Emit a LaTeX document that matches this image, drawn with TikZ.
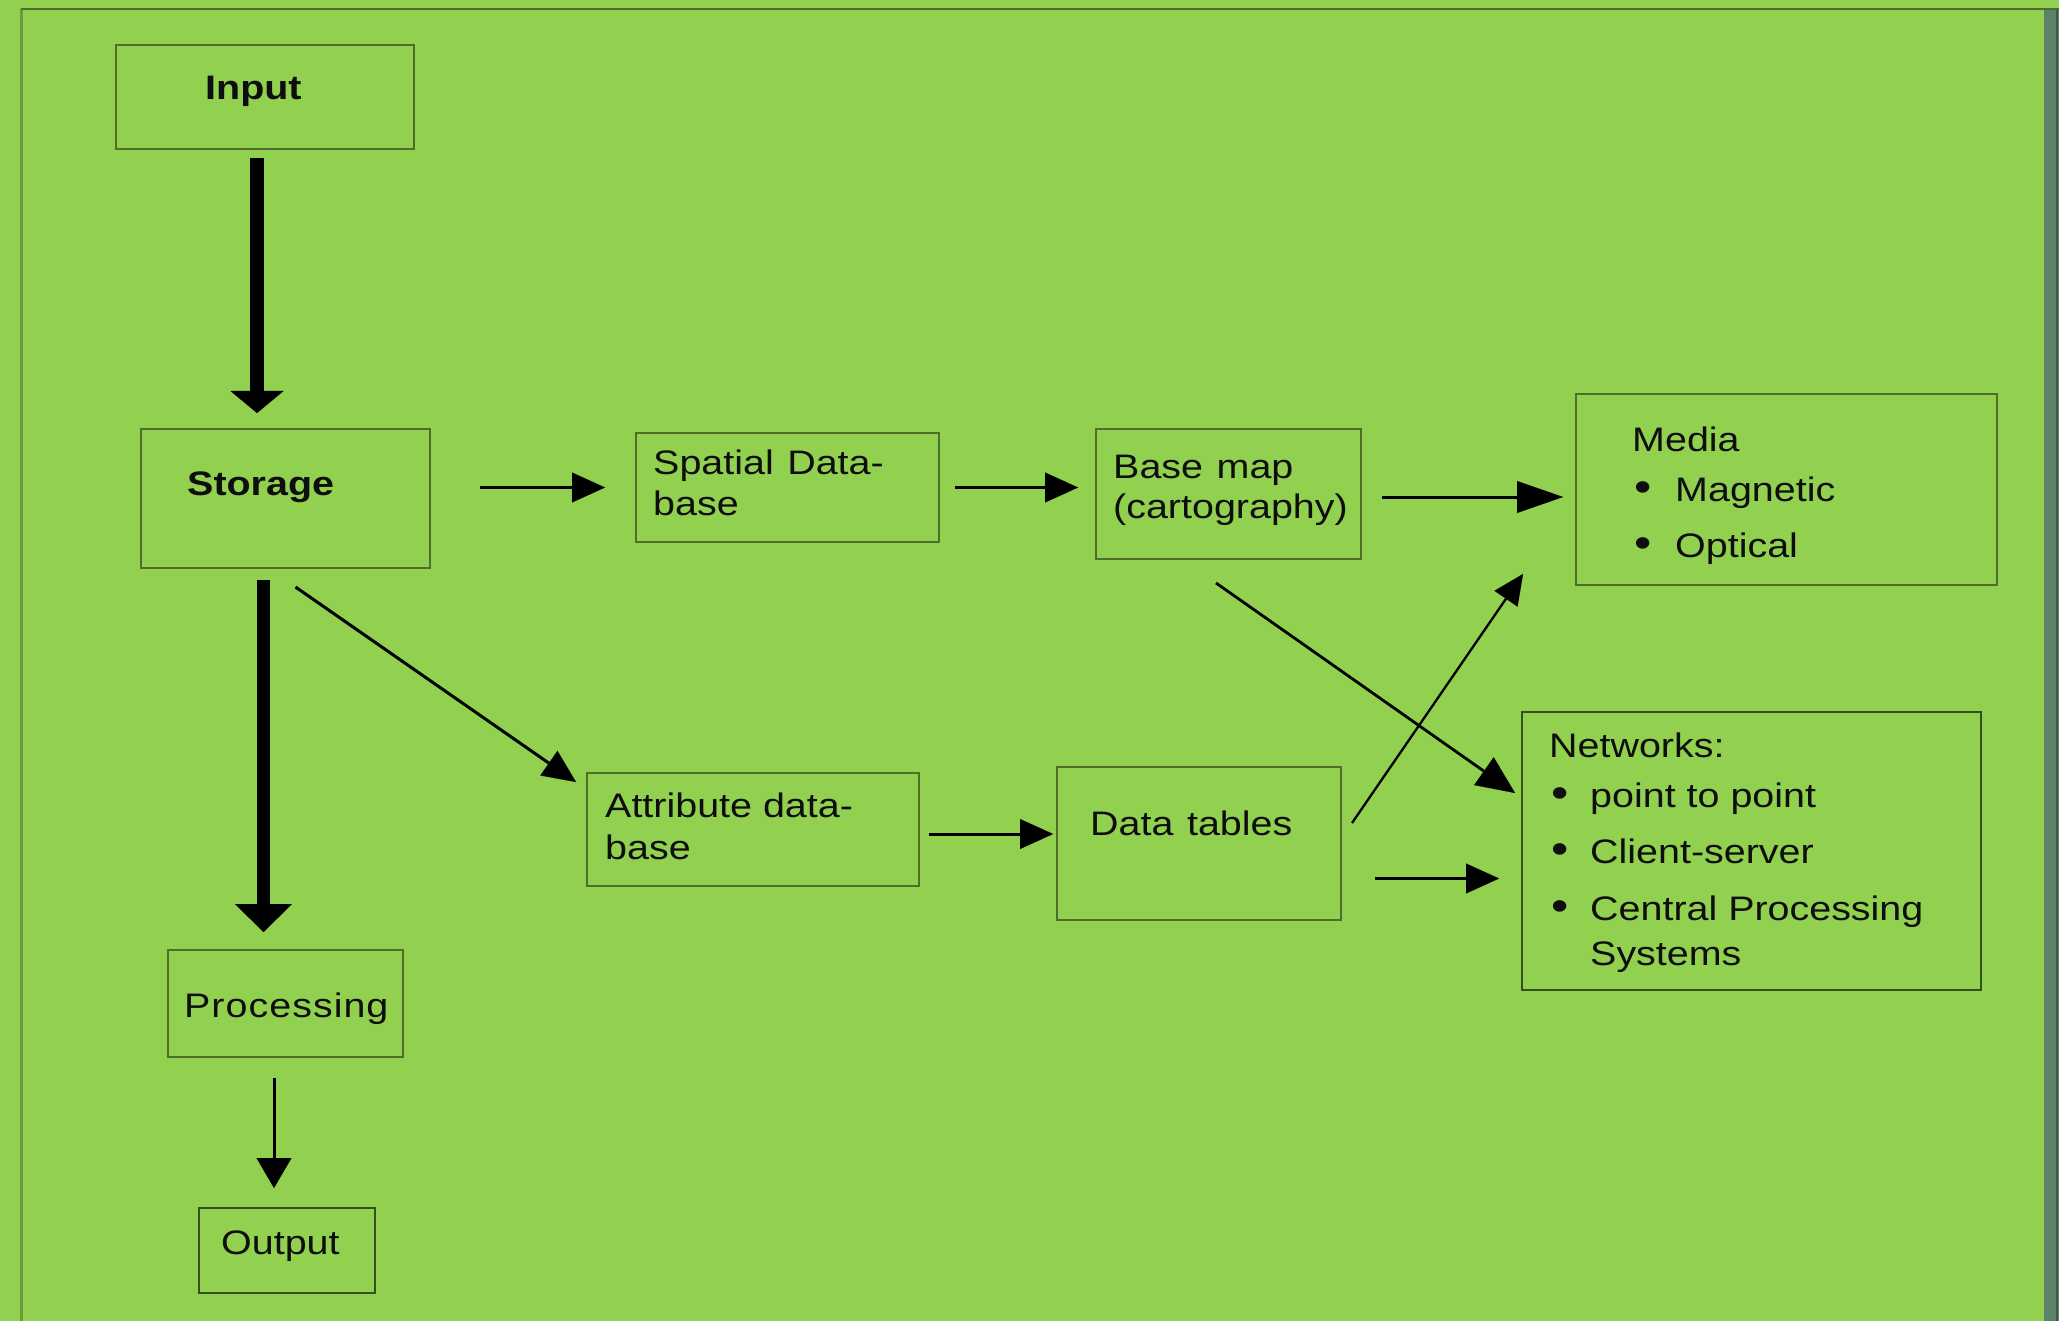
\documentclass[tikz,border=0pt]{standalone}
\usepackage{fontspec}
\setmainfont{Liberation Sans}[FakeStretch=1.16]
\usetikzlibrary{arrows.meta,calc}
\definecolor{bg}{HTML}{92D050}
\definecolor{boxline}{HTML}{4F6E2E}
\definecolor{boxdark}{HTML}{34501F}
\definecolor{frametop}{HTML}{4E6C33}
\definecolor{frameleft}{HTML}{6A9A3A}
\definecolor{strip}{HTML}{5E8268}
\definecolor{stripline}{HTML}{3E5A45}
\definecolor{ink}{HTML}{0E0E0E}
\newcommand{\blt}[1]{\makebox[#1][l]{\scalebox{1.25}{•}}}
\begin{document}
\begin{tikzpicture}[x=1pt,y=-1pt,
  box/.style={draw=boxline, line width=2.5pt, inner sep=0pt, outer sep=0pt},
  darkbox/.style={box, draw=boxdark},
  txt/.style={anchor=base west, inner sep=0pt, text=ink, font=\fontsize{34}{40}\selectfont},
  btxt/.style={txt, font=\fontsize{34}{40}\selectfont\bfseries},
  arr/.style={draw=black, line width=3pt, -{Triangle[length=33pt,width=30pt,line width=0.01pt]}},
  bigheadarr/.style={draw=black, line width=3pt, -{Triangle[length=46pt,width=32pt,line width=0.01pt]}},
  diagarr/.style={draw=black, line width=2.8pt, -{Triangle[length=38pt,width=34pt,line width=0.01pt]}},
  thinarr/.style={draw=black, line width=2.3pt, -{Triangle[length=30pt,width=28pt,line width=0.01pt]}},
  downarr/.style={draw=black, line width=3pt, -{Triangle[length=30pt,width=35pt,line width=0.01pt]}},
  fatarrA/.style={draw=black, line width=14pt, -{Triangle[length=22pt,width=53pt,line width=0.01pt]}},
  fatarrB/.style={draw=black, line width=13pt, -{Triangle[length=28pt,width=57pt,line width=0.01pt]}}
]
\useasboundingbox (0,0) rectangle (2059,1321);
% background and frame
\fill[bg] (0,0) rectangle (2059,1321);
\draw[frameleft, line width=2.5pt] (21.5,1321) -- (21.5,9);
\draw[frametop, line width=2.5pt] (20.5,9) -- (2059,9);
\fill[strip] (2044,10) rectangle (2059,1321);
\draw[stripline, line width=2pt] (2057,10) -- (2057,1321);

% boxes
\node[box, minimum width=298pt, minimum height=104pt] (input) at (265,97) {};
\node[box, minimum width=289pt, minimum height=139pt] (storage) at (285.5,498.5) {};
\node[box, minimum width=303pt, minimum height=109pt] (spatial) at (787.5,487.5) {};
\node[box, minimum width=265pt, minimum height=130pt] (basemap) at (1228.5,494) {};
\node[box, minimum width=421pt, minimum height=191pt] (media) at (1786.5,489.5) {};
\node[box, minimum width=332pt, minimum height=113pt] (attr) at (753,829.5) {};
\node[box, minimum width=284pt, minimum height=153pt] (dt) at (1199,843.5) {};
\node[darkbox, minimum width=459pt, minimum height=278pt] (networks) at (1751.5,851) {};
\node[box, minimum width=235pt, minimum height=107pt] (processing) at (285.5,1003.5) {};
\node[darkbox, minimum width=176pt, minimum height=85pt] (output) at (287,1250.5) {};

% texts
\node[btxt] (input-t) at (205,100) {Input};
\node[btxt] (storage-t) at (187,495) {Storage};
\node[txt] (spatial-t1) at (653,474) {Spatial\hspace{0.4em}Data-};
\node[txt] (spatial-t2) at (653,515) {base};
\node[txt] (basemap-t1) at (1113,478) {Base\hspace{0.4em}map};
\node[txt] (basemap-t2) at (1113,518) {(cartography)};
\node[txt] (media-t0) at (1632,451) {Media};
\node[txt] (media-t1) at (1634,501) {\blt{41pt}Magnetic};
\node[txt] (media-t2) at (1634,557) {\blt{41pt}Optical};
\node[txt] (attr-t1) at (605,817) {Attribute data-};
\node[txt] (attr-t2) at (605,859) {base};
\node[txt] (dt-t) at (1090,835) {Data\hspace{0.4em}tables};
\node[txt] (net-t0) at (1549,757) {Networks:};
\node[txt] (net-t1) at (1551,807) {\blt{39pt}point to point};
\node[txt] (net-t2) at (1551,863) {\blt{39pt}Client-server};
\node[txt] (net-t3) at (1551,920) {\blt{39pt}Central Processing};
\node[txt] (net-t4) at (1590,965) {Systems};
\node[txt] (processing-t) at (184,1017) {\addfontfeatures{LetterSpace=3}Processing};
\node[txt] (output-t) at (221,1254) {Output};

% connectors
\draw[fatarrA, shorten <=9pt, shorten >=16pt] ([xshift=-8pt]input.south) -- ([xshift=-8pt]input.south |- storage.north);
\draw[fatarrB, shorten <=12pt, shorten >=18pt] ([xshift=-22pt]storage.south) -- ([xshift=-22pt]storage.south |- processing.north);
\draw[downarr, shorten <=21pt, shorten >=20pt] ([xshift=-11.5pt]processing.south) -- ([xshift=-11.5pt]processing.south |- output.north);

\draw[arr, shorten <=50pt, shorten >=31pt] (storage.east |- spatial.west) -- (spatial.west);
\draw[arr, shorten <=16pt, shorten >=18pt] (spatial.east) -- (spatial.east -| basemap.west);
\coordinate (bm-out) at ([shift={(0,3)}]basemap.east);
\draw[bigheadarr, shorten <=21pt, shorten >=13pt] (bm-out) -- (bm-out -| media.west);

\coordinate (at-out) at ([shift={(0,4.5)}]attr.east);
\draw[arr, shorten <=10pt, shorten >=4pt] (at-out) -- (at-out -| dt.west);
\coordinate (dt-out) at ([shift={(0,35)}]dt.east);
\draw[arr, shorten <=34pt, shorten >=23pt] (dt-out) -- (dt-out -| networks.west);

\coordinate (sa1) at ([shift={(10,19)}]storage.south);
\coordinate (sa2) at ([shift={(-11,9)}]attr.north west);
\draw[arr] (sa1) -- (sa2);
\coordinate (bn1) at ([shift={(-12.5,24)}]basemap.south);
\coordinate (bn2) at ([shift={(-7,81)}]networks.north west);
\draw[diagarr] (bn1) -- (bn2);
\coordinate (dm1) at ([shift={(11,56)}]dt.north east);
\coordinate (dm2) at ([shift={(-53,-11)}]media.south west);
\draw[thinarr] (dm1) -- (dm2);
\end{tikzpicture}
\end{document}
